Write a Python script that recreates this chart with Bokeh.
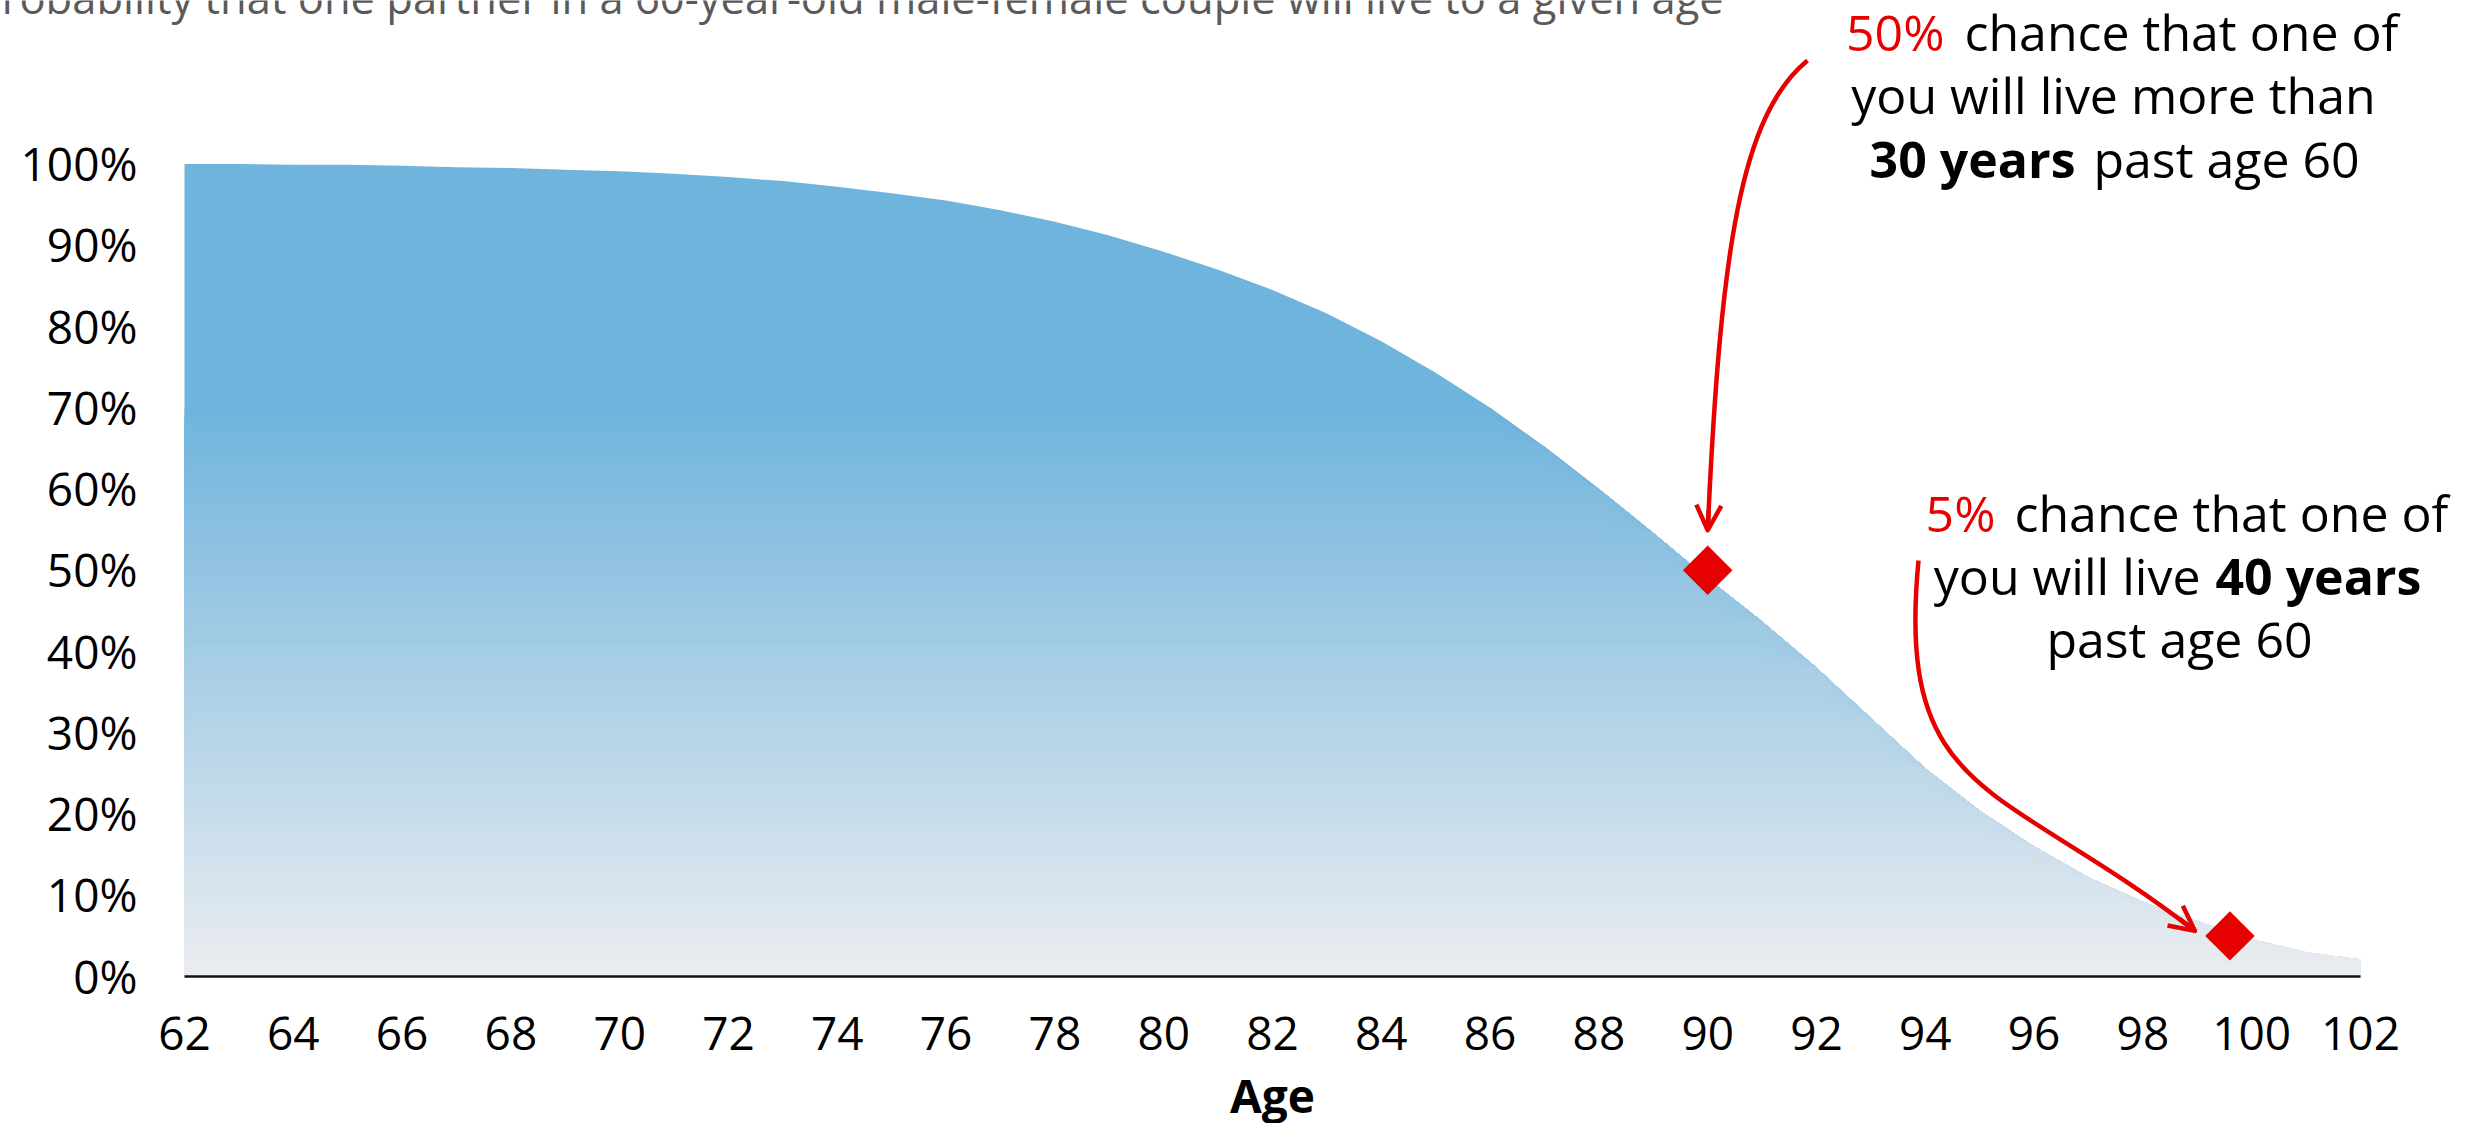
import numpy as np
from bokeh.plotting import figure
from bokeh.models import Range1d, Label, Arrow, OpenHead
from bokeh.core.properties import value
from bokeh.embed import file_html
from bokeh.resources import INLINE

# Probability that at least one partner of a 60-year-old couple is alive at each age
ages = list(range(62, 103))
survival = [1.000, 1.000, 0.999, 0.999, 0.998, 0.996, 0.995, 0.993, 0.991, 0.988,
            0.984, 0.979, 0.972, 0.964, 0.955, 0.943, 0.929, 0.912, 0.892, 0.870,
            0.845, 0.816, 0.782, 0.743, 0.700, 0.652, 0.600, 0.546, 0.490, 0.437,
            0.380, 0.318, 0.256, 0.204, 0.160, 0.122, 0.092, 0.068, 0.046, 0.030, 0.021]

# Highlighted points: 30 and 40 years past age 60
marker_ages = [90, 99.6]
marker_probs = [0.50, 0.05]

x_ticks = list(range(62, 103, 2))
x_tick_labels = [str(t) for t in x_ticks]
y_ticks = [0.0, 0.1, 0.2, 0.3, 0.4, 0.5, 0.6, 0.7, 0.8, 0.9, 1.0]
y_tick_labels = ["0%", "10%", "20%", "30%", "40%", "50%", "60%", "70%", "80%", "90%", "100%"]

TITLE = "Probability that one partner in a 60-year-old male-female couple will live to a given age"

RED = "#E60000"
FONT = "Open Sans"

# Canvas geometry: the plotting frame fills the whole canvas, the data
# window (ages 62-102, 0-100%) sits inside it.
W, H = 2473, 1123
LEFT, RIGHT, BOTTOM_Y = 184, 2360, 976
PX_PER_UNIT = 812.5
X_MIN, X_MAX = 62, 102
PX_PER_YEAR = (RIGHT - LEFT) / (X_MAX - X_MIN)
# Bokeh sets "alphabetic" text a little low; lift it by this share of the font size
BASELINE_LIFT = 0.38


def dx(px):
    """canvas pixel column -> age"""
    return X_MIN + (px - LEFT) / PX_PER_YEAR


def dy(py):
    """canvas pixel row -> probability"""
    return (BOTTOM_Y - py) / PX_PER_UNIT


def px_of(age, prob):
    return LEFT + (age - X_MIN) * PX_PER_YEAR, BOTTOM_Y - prob * PX_PER_UNIT


p = figure(width=W, height=H, x_range=Range1d(dx(0), dx(W)), y_range=Range1d(dy(H), dy(0)),
           output_backend="svg", toolbar_location=None,
           x_axis_location=None, y_axis_location=None, min_border=0)
p.outline_line_color = None
p.grid.visible = False
p.background_fill_color = "white"
p.border_fill_color = "white"

# Vertical gradient fill: light grey at 0% blending to blue at 70% and above
surv = np.array(survival, dtype=float)
c_lo = np.array([0xEB, 0xED, 0xF0], dtype=float)
c_hi = np.array([0x6F, 0xB4, 0xDD], dtype=float)
GRAD_TOP = 0.70


def grad_color(level):
    t = min(max(level / GRAD_TOP, 0.0), 1.0)
    c = c_lo + (c_hi - c_lo) * t
    return "#%02x%02x%02x" % tuple(int(round(v)) for v in c)


p.varea(x=ages, y1=surv, y2=0, fill_color=grad_color(1.0))
step = 0.01
for lv in np.arange(GRAD_TOP, 0.0, -step):
    p.varea(x=ages, y1=np.minimum(surv, lv), y2=0, fill_color=grad_color(lv - step / 2))

# Axis line and tick labels
TICK_SIZE = 46
p.line(x=[x_ticks[0], x_ticks[-1]], y=[y_ticks[0], y_ticks[0]], line_color="#111111", line_width=2.5)
p.text(x=x_ticks, y=[y_ticks[0]] * len(x_ticks), text=x_tick_labels,
       text_font=value(FONT), text_font_size=f"{TICK_SIZE}px", text_color="#000000",
       text_align="center", text_baseline="alphabetic",
       y_offset=74 - BASELINE_LIFT * TICK_SIZE)
p.text(x=[x_ticks[0]] * len(y_ticks), y=y_ticks, text=y_tick_labels,
       text_font=value(FONT), text_font_size=f"{TICK_SIZE}px", text_color="#000000",
       text_align="right", text_baseline="alphabetic", x_offset=-47,
       y_offset=16.5 - BASELINE_LIFT * TICK_SIZE)

# Curved call-out arrows
m1x, m1y = px_of(marker_ages[0], marker_probs[0])
m2x, m2y = px_of(marker_ages[1], marker_probs[1])
arrows_px = [
    # start, control 1, control 2, tip
    [(1807, 60), (1740, 115), (1720, 250), (m1x, m1y - 40)],
    [(1918, 560), (1895, 800), (2000, 780), (m2x - 35, m2y - 5)],
]
p.bezier(x0=[dx(a[0][0]) for a in arrows_px], y0=[dy(a[0][1]) for a in arrows_px],
         cx0=[dx(a[1][0]) for a in arrows_px], cy0=[dy(a[1][1]) for a in arrows_px],
         cx1=[dx(a[2][0]) for a in arrows_px], cy1=[dy(a[2][1]) for a in arrows_px],
         x1=[dx(a[3][0]) for a in arrows_px], y1=[dy(a[3][1]) for a in arrows_px],
         line_color=RED, line_width=4.5)
for a in arrows_px:
    (c2x, c2y), (tx, ty) = a[2], a[3]
    vx, vy = tx - c2x, ty - c2y
    n = (vx * vx + vy * vy) ** 0.5
    sx, sy = tx - vx / n * 20, ty - vy / n * 20
    p.add_layout(Arrow(x_start=dx(sx), y_start=dy(sy), x_end=dx(tx), y_end=dy(ty),
                       line_color=RED, line_width=4.5,
                       end=OpenHead(size=25, line_color=RED, line_width=4.5, line_join="round")))

# Diamond markers
p.scatter(x=marker_ages, y=marker_probs, marker="square", angle=np.pi / 4, size=35,
          fill_color=RED, line_color=None)


def add_text(px, py, text, size=50, color="#000000", align="left", style="normal"):
    p.add_layout(Label(x=dx(px), y=dy(py - BASELINE_LIFT * size), text=text, text_font=FONT,
                       text_font_size=f"{size}px", text_color=color, text_align=align,
                       text_baseline="alphabetic", text_font_style=style))


# Title (runs off the top-left edge)
add_text(-25, 14, TITLE, size=43.5, color="#5a5a5a")

# Call-out 1
add_text(1944, 50, "50%", color=RED, align="right")
add_text(1964, 50, "chance that one of")
add_text(2113, 113, "you will live more than", align="center")
add_text(2075, 177, "30 years", align="right", style="bold")
add_text(2093, 177, "past age 60")

# Call-out 2
add_text(1995, 531, "5%", color=RED, align="right")
add_text(2014, 531, "chance that one of")
add_text(2200, 594, "you will live", align="right")
add_text(2215, 594, "40 years", style="bold")
add_text(2179, 657, "past age 60", align="center")

# Axis title
add_text(px_of(82, 0)[0], 1112, "Age", size=46, align="center", style="bold")

open("out.html", "w").write(file_html(p, INLINE))
